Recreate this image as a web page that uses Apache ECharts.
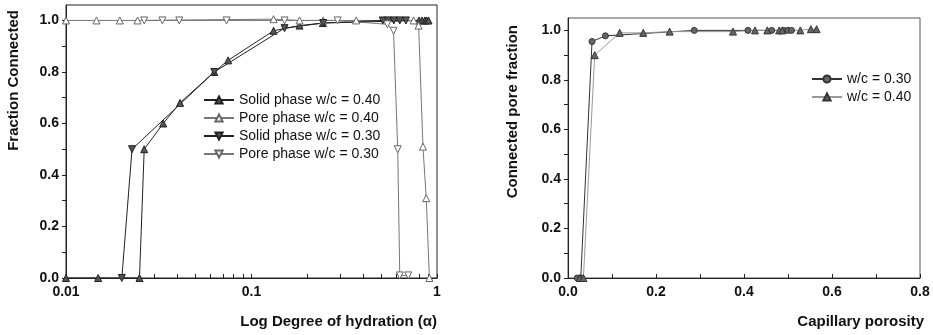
<!DOCTYPE html>
<html>
<head>
<meta charset="utf-8">
<script src="https://cdn.jsdelivr.net/npm/echarts@6/dist/echarts.min.js"></script>
<style>
  html, body { margin: 0; padding: 0; background: #fff; }
  #chart { width: 933px; height: 335px; }
</style>
</head>
<body>
<div id="chart"></div>
<script>
// left panel: fraction connected vs degree of hydration (log)
const hydSolid40 = [0.01, 0.0149, 0.0249, 0.0264, 0.0334, 0.0412, 0.063, 0.0748, 0.1315, 0.1815, 0.2426, 0.80, 0.83, 0.86, 0.88, 0.90];
const fracSolid40 = [0, 0, 0, 0.5, 0.6, 0.68, 0.8, 0.845, 0.96, 0.98, 0.99, 1.0, 1.0, 1.0, 1.0, 1.0];
const hydPore40 = [0.01, 0.0146, 0.0195, 0.0243, 0.1315, 0.1816, 0.2436, 0.3667, 0.748, 0.796, 0.84, 0.875, 0.91];
const fracPore40 = [1, 1, 1, 1, 1.005, 1, 1, 1, 1, 0.98, 0.51, 0.31, 0.0];
const hydSolid30 = [0.02, 0.0227, 0.063, 0.1507, 0.2436, 0.51, 0.545, 0.585, 0.63, 0.68];
const fracSolid30 = [0, 0.5, 0.8, 0.97, 0.99, 1.0, 1.0, 1.0, 1.0, 1.0];
const hydPore30 = [0.0264, 0.0331, 0.0408, 0.0734, 0.1507, 0.2911, 0.54, 0.583, 0.614, 0.63, 0.70];
const fracPore30 = [1, 1, 1, 1, 1, 1, 0.985, 0.96, 0.5, 0.01, 0.01];

// right panel: connected pore fraction vs capillary porosity
const poro30 = [0.021, 0.029, 0.0546, 0.085, 0.287, 0.409, 0.463, 0.49, 0.50, 0.508];
const conn30 = [0, 0, 0.955, 0.978, 1, 1, 1, 1, 1, 1];
const poro40 = [0.027, 0.035, 0.0607, 0.1175, 0.171, 0.231, 0.375, 0.425, 0.453, 0.48, 0.487, 0.528, 0.552, 0.565];
const conn40 = [0, 0, 0.9, 0.99, 0.99, 0.995, 0.995, 1, 1, 1, 1, 1, 1.005, 1.005];

const logTicks = [0.01, 0.02, 0.03, 0.04, 0.05, 0.06, 0.07, 0.08, 0.09, 0.1, 0.2, 0.3, 0.4, 0.5, 0.6, 0.7, 0.8, 0.9, 1];
const logLabels = [0.01, 0.1, 1];
const fracLabels = [0, 0.2, 0.4, 0.6, 0.8, 1.0];
const fracTicks = [0, 0.1, 0.2, 0.3, 0.4, 0.5, 0.6, 0.7, 0.8, 0.9, 1.0];

const zip = (xs, ys) => xs.map((x, i) => [x, ys[i]]);
const FONT = 'Liberation Sans, Arial, sans-serif';

const chart = echarts.init(document.getElementById('chart'), null, { renderer: 'canvas' });

const baseAxis = {
  axisLine: { lineStyle: { color: '#222', width: 1 } },
  splitLine: { show: false },
  axisLabel: { color: '#111', fontFamily: FONT, fontWeight: 'bold', fontSize: 14 }
};

function lineSeries(name, data, opts) {
  return Object.assign({
    name: name,
    type: 'line',
    data: data,
    symbolSize: 7,
    showAllSymbol: true,
    animation: false
  }, opts);
}

const legendText = { fontFamily: FONT, fontSize: 14, color: '#111' };
const titleStyle = { fontFamily: FONT, fontWeight: 'bold', fontSize: 15, fill: '#111' };

const option = {
  animation: false,
  textStyle: { fontFamily: FONT },
  grid: [
    { left: 66, right: 496, top: 5, bottom: 57, show: true, borderColor: '#222', borderWidth: 1, backgroundColor: 'transparent' },
    { left: 568, right: 13, top: 18, bottom: 57, show: true, borderColor: '#555', borderWidth: 1, backgroundColor: 'transparent' }
  ],
  xAxis: [
    Object.assign({}, baseAxis, {
      gridIndex: 0, type: 'log', logBase: 10, min: 0.01, max: 1,
      axisTick: { inside: true, length: 4, customValues: logTicks, lineStyle: { color: '#222' } },
      axisLabel: Object.assign({}, baseAxis.axisLabel, { customValues: logLabels, margin: 7 })
    }),
    Object.assign({}, baseAxis, {
      gridIndex: 1, type: 'value', min: 0, max: 0.8, interval: 0.2,
      axisTick: { inside: true, length: 4, lineStyle: { color: '#222' } },
      minorTick: { show: true, splitNumber: 2, length: 4, lineStyle: { color: '#222' } },
      axisLabel: Object.assign({}, baseAxis.axisLabel, { formatter: v => v.toFixed(1), margin: 7 })
    })
  ],
  yAxis: [
    Object.assign({}, baseAxis, {
      gridIndex: 0, type: 'value', min: 0, max: 1.06,
      axisTick: { inside: false, length: 4, customValues: fracTicks, lineStyle: { color: '#222' } },
      axisLabel: Object.assign({}, baseAxis.axisLabel, { customValues: fracLabels, formatter: v => v.toFixed(1), margin: 7 })
    }),
    Object.assign({}, baseAxis, {
      gridIndex: 1, type: 'value', min: 0, max: 1.05,
      axisTick: { inside: false, length: 4, customValues: fracTicks, lineStyle: { color: '#222' } },
      axisLabel: Object.assign({}, baseAxis.axisLabel, { customValues: fracLabels, formatter: v => v.toFixed(1), margin: 7 })
    })
  ],
  legend: [
    {
      data: ['Solid phase w/c = 0.40', 'Pore phase w/c = 0.40', 'Solid phase w/c = 0.30', 'Pore phase w/c = 0.30'],
      orient: 'vertical', left: 198, top: 88, itemGap: 4, itemWidth: 30, itemHeight: 9,
      textStyle: legendText
    },
    {
      data: ['w/c = 0.30', 'w/c = 0.40'],
      orient: 'vertical', left: 806, top: 67, itemGap: 4, itemWidth: 30, itemHeight: 9,
      textStyle: legendText
    }
  ],
  graphic: [
    { type: 'text', left: 6, top: 10, rotation: Math.PI / 2, style: Object.assign({ text: 'Fraction Connected' }, titleStyle) },
    { type: 'text', left: 505, top: 25, rotation: Math.PI / 2, style: Object.assign({ text: 'Connected pore fraction' }, titleStyle) },
    { type: 'text', right: 496, top: 314, style: Object.assign({ text: 'Log Degree of hydration (\u03b1)' }, titleStyle) },
    { type: 'text', right: 9, top: 314, style: Object.assign({ text: 'Capillary porosity' }, titleStyle) }
  ],
  series: [
    lineSeries('Solid phase w/c = 0.40', zip(hydSolid40, fracSolid40), {
      xAxisIndex: 0, yAxisIndex: 0, symbol: 'triangle',
      itemStyle: { color: '#555', borderColor: '#222', borderWidth: 1 },
      lineStyle: { color: '#222', width: 1 }
    }),
    lineSeries('Pore phase w/c = 0.40', zip(hydPore40, fracPore40), {
      xAxisIndex: 0, yAxisIndex: 0, symbol: 'triangle',
      itemStyle: { color: '#fff', borderColor: '#666', borderWidth: 1 },
      lineStyle: { color: '#777', width: 1 }
    }),
    lineSeries('Solid phase w/c = 0.30', zip(hydSolid30, fracSolid30), {
      xAxisIndex: 0, yAxisIndex: 0, symbol: 'triangle', symbolRotate: 180,
      itemStyle: { color: '#555', borderColor: '#222', borderWidth: 1 },
      lineStyle: { color: '#222', width: 1 }
    }),
    lineSeries('Pore phase w/c = 0.30', zip(hydPore30, fracPore30), {
      xAxisIndex: 0, yAxisIndex: 0, symbol: 'triangle', symbolRotate: 180,
      itemStyle: { color: '#fff', borderColor: '#666', borderWidth: 1 },
      lineStyle: { color: '#777', width: 1 }
    }),
    lineSeries('w/c = 0.30', zip(poro30, conn30), {
      xAxisIndex: 1, yAxisIndex: 1, symbol: 'circle', symbolSize: 6,
      itemStyle: { color: '#666', borderColor: '#333', borderWidth: 1 },
      lineStyle: { color: '#333', width: 1 }
    }),
    lineSeries('w/c = 0.40', zip(poro40, conn40), {
      xAxisIndex: 1, yAxisIndex: 1, symbol: 'triangle',
      itemStyle: { color: '#666', borderColor: '#333', borderWidth: 1 },
      lineStyle: { color: '#999', width: 1 }
    })
  ]
};

chart.setOption(option);
</script>
</body>
</html>
